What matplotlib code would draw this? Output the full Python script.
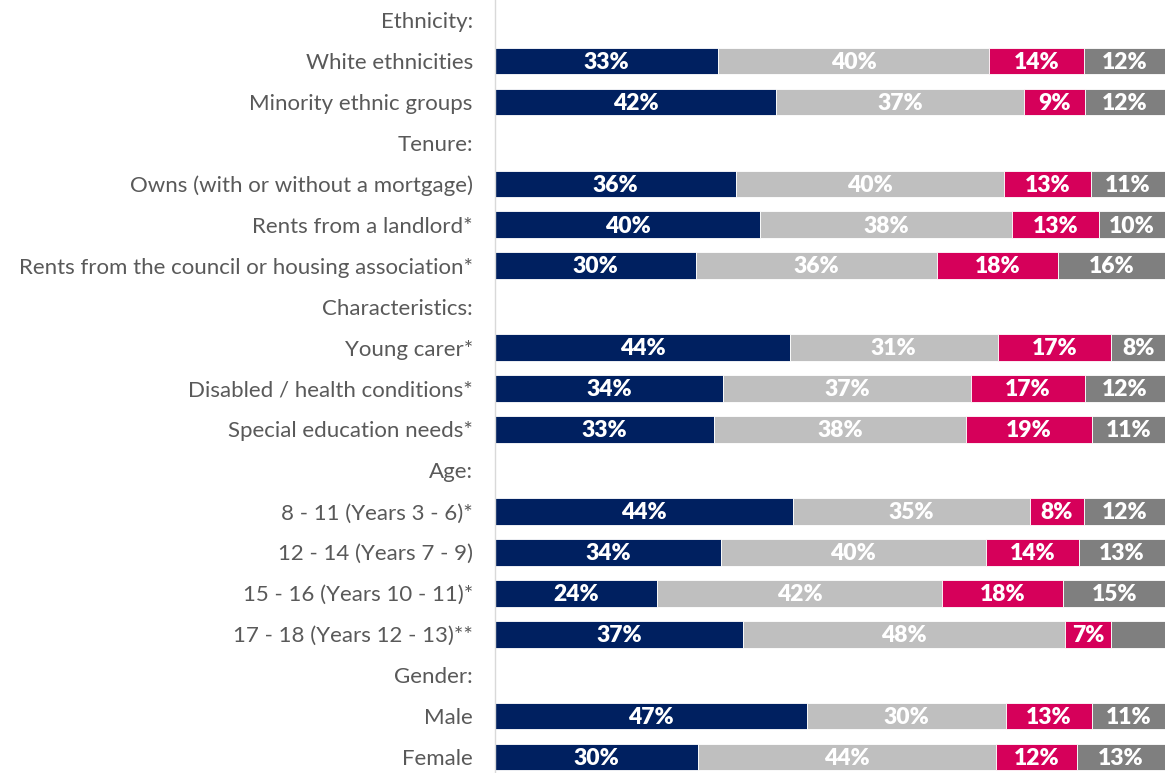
import numpy as np
import matplotlib.pyplot as plt

# rows, top to bottom; headers have no bars
categories = [
    "Ethnicity:", "White ethnicities", "Minority ethnic groups",
    "Tenure:", "Owns (with or without a mortgage)", "Rents from a landlord*",
    "Rents from the council or housing association*",
    "Characteristics:", "Young carer*", "Disabled / health conditions*",
    "Special education needs*",
    "Age:", "8 - 11 (Years 3 - 6)*", "12 - 14 (Years 7 - 9)",
    "15 - 16 (Years 10 - 11)*", "17 - 18 (Years 12 - 13)**",
    "Gender:", "Male", "Female",
]
headers = {"Ethnicity:", "Tenure:", "Characteristics:", "Age:", "Gender:"}

seg1 = [33, 42, 36, 40, 30, 44, 34, 33, 44, 34, 24, 37, 47, 30]
seg2 = [40, 37, 40, 38, 36, 31, 37, 38, 35, 40, 42, 48, 30, 44]
seg3 = [14, 9, 13, 13, 18, 17, 17, 19, 8, 14, 18, 7, 13, 12]
seg4 = [12, 12, 11, 10, 16, 8, 12, 11, 12, 13, 15, 8, 11, 13]
# label not shown for the last segment of 17 - 18
hide4 = [False] * 11 + [True] + [False] * 2

colors = ["#002060", "#BFBFBF", "#D6005A", "#7F7F7F"]

fig = plt.figure(figsize=(11.75, 7.73), dpi=100)
ax = fig.add_axes([0.4213, 0.0, 0.5702, 1.0])

font = "Lato"
data_rows = [i for i, c in enumerate(categories) if c not in headers]
vals = np.array([seg1, seg2, seg3, seg4], dtype=float)
totals = vals.sum(axis=0)

for j, yi in enumerate(data_rows):
    left = 0.0
    for k in range(4):
        w = vals[k, j] / totals[j] * 100
        ax.barh(yi, w, left=left, height=0.65, color=colors[k],
                edgecolor="white", linewidth=0.6)
        show = not (k == 3 and hide4[j])
        if show:
            ax.text(left + w / 2, yi + 0.03, f"{int(vals[k, j])}%", ha="center",
                    va="center", color="white", fontsize=16.5,
                    fontweight="heavy", family=font)
        left += w

ax.set_xlim(0, 100)
ax.set_ylim(18.39, -0.49)
ax.set_yticks(range(len(categories)))
ax.set_yticklabels(categories, fontsize=16, color="#595959", family=font)
ax.tick_params(axis="y", length=0, pad=16)
ax.set_xticks([])
for s in ["top", "right", "bottom"]:
    ax.spines[s].set_visible(False)
ax.spines["left"].set_color("#D9D9D9")
ax.spines["left"].set_linewidth(1.0)

fig.savefig("out.png", dpi=100)
